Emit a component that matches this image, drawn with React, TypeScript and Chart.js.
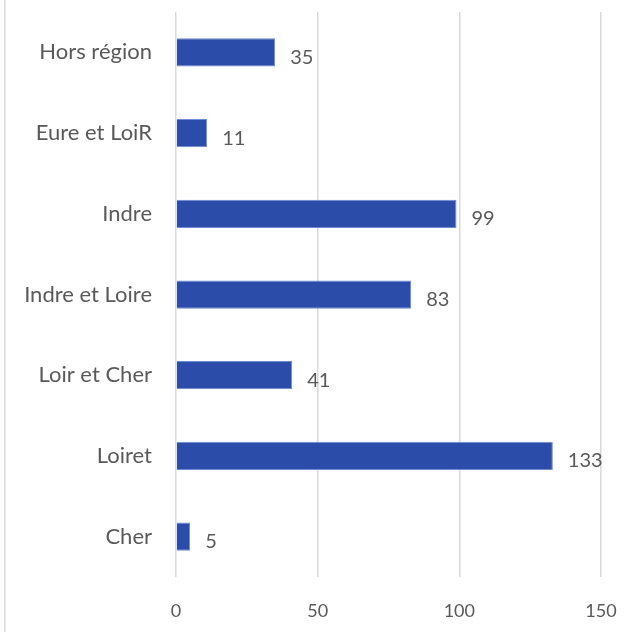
import React, { useEffect, useRef } from "react";
import { Chart, registerables } from "chart.js";

Chart.register(...registerables);

const categories = ["Hors région", "Eure et LoiR", "Indre", "Indre et Loire", "Loir et Cher", "Loiret", "Cher"];
const values = [35, 11, 99, 83, 41, 133, 5];
const xTicks = [0, 50, 100, 150];

const FONT = "Lato";
const TEXT = "#595959";

export default function App() {
  const ref = useRef<HTMLCanvasElement | null>(null);
  useEffect(() => {
    if (!ref.current) return;
    const labelPlugin = {
      id: "valueLabels",
      afterDatasetsDraw(chart: any) {
        const ctx = chart.ctx;
        const meta = chart.getDatasetMeta(0);
        ctx.save();
        ctx.fillStyle = TEXT;
        ctx.font = `20px ${FONT}`;
        ctx.textAlign = "left";
        ctx.textBaseline = "middle";
        meta.data.forEach((el: any, i: number) => {
          ctx.fillText(String(values[i]), el.x + 15, el.y + 5);
        });
        ctx.restore();
      },
      beforeDraw(chart: any) {
        const ctx = chart.ctx;
        ctx.save();
        ctx.fillStyle = "#d9d9d9";
        ctx.fillRect(4, 0, 1.5, chart.height);
        ctx.restore();
      },
    };
    const chart = new Chart(ref.current, {
      type: "bar",
      data: {
        labels: categories,
        datasets: [
          {
            data: values,
            backgroundColor: "#2B4CA8",
            borderColor: "#6F8AD6",
            borderWidth: 1,
            categoryPercentage: 1,
            barPercentage: 0.35,
          },
        ],
      },
      options: {
        indexAxis: "y",
        animation: false,
        responsive: false,
        maintainAspectRatio: false,
        layout: { padding: { left: 0, right: 40, top: 12, bottom: 0 } },
        plugins: { legend: { display: false }, tooltip: { enabled: false } },
        scales: {
          x: {
            min: 0,
            max: 150,
            afterBuildTicks: (scale: any) => {
              scale.ticks = xTicks.map((v) => ({ value: v }));
            },
            afterFit: (scale: any) => {
              scale.height = 55;
              scale.paddingLeft = 0;
              scale.paddingRight = 0;
            },
            grid: { color: "#d9d9d9", lineWidth: 1.5, drawTicks: false },
            border: { display: false },
            ticks: { color: TEXT, font: { family: FONT, size: 18 }, padding: 23 },
          },
          y: {
            afterFit: (scale: any) => {
              scale.width = 176;
              scale.paddingTop = 0;
              scale.paddingBottom = 0;
            },
            grid: { display: false },
            border: { display: false },
            ticks: { color: TEXT, font: { family: FONT, size: 22 }, padding: 16 },
          },
        },
      },
      plugins: [labelPlugin],
    });
    return () => chart.destroy();
  }, []);
  return (
    <div style={{ position: "fixed", left: 0, top: 0, width: 641, height: 632, background: "#fff" }}>
      <canvas ref={ref} width={641} height={632} style={{ display: "block" }} />
    </div>
  );
}
